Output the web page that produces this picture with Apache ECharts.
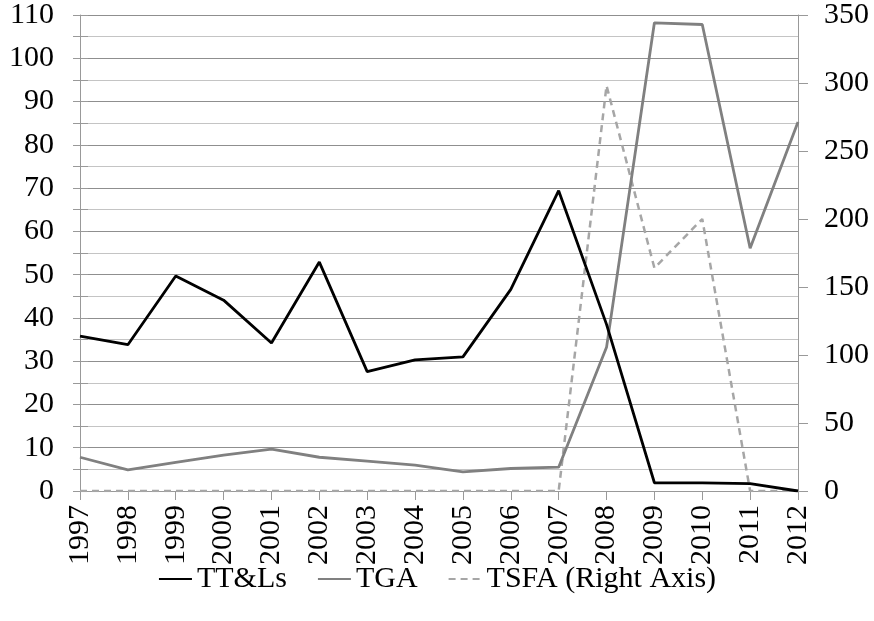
<!DOCTYPE html>
<html><head><meta charset="utf-8">
<script src="https://cdn.jsdelivr.net/npm/echarts@6/dist/echarts.min.js"></script>
<style>html,body{margin:0;padding:0;background:#fff}#c{width:874px;height:621px}</style>
</head><body><div id="c"></div>
<script>
const years = ['1997','1998','1999','2000','2001','2002','2003','2004','2005','2006','2007','2008','2009','2010','2011','2012'];
const ttls = [35.8, 33.8, 49.7, 44.1, 34.2, 52.9, 27.6, 30.3, 31.0, 46.6, 69.4, 38.5, 1.9, 1.9, 1.7, 0];
const tga = [7.8, 4.9, 6.6, 8.3, 9.7, 7.8, 6.9, 6.0, 4.4, 5.2, 5.5, 33.2, 108.2, 107.8, 56.1, 85.3];
const tsfa = [0, 0, 0, 0, 0, 0, 0, 0, 0, 0, 0, 298, 164, 200, 0, 0];
const leftTicks = {min: 0, max: 110, interval: 10};
const rightTicks = {min: 0, max: 350, interval: 50};

const font = 'Liberation Serif';
const chart = echarts.init(document.getElementById('c'));
chart.setOption({
  animation: false,
  grid: {left: 80, right: 76, top: 15, bottom: 130},
  legend: {
    bottom: 22, left: 'center', itemGap: 30, itemWidth: 33, itemHeight: 14,
    itemStyle: {opacity: 0},
    textStyle: {fontFamily: font, fontSize: 30, color: '#000'},
    data: ['TT&Ls', 'TGA', 'TSFA (Right Axis)']
  },
  xAxis: {
    type: 'category', data: years, boundaryGap: false,
    axisLine: {show: true, lineStyle: {color: '#999', width: 1}},
    axisTick: {show: true, inside: false, length: 9, lineStyle: {color: '#999'}},
    axisLabel: {rotate: 90, fontFamily: font, fontSize: 30, color: '#000', margin: 14},
    splitLine: {show: false}
  },
  yAxis: [
    {type: 'value', position: 'left', min: leftTicks.min, max: leftTicks.max, interval: leftTicks.interval,
     axisLine: {show: true, lineStyle: {color: '#999'}},
     axisTick: {show: true, length: 7, lineStyle: {color: '#999'}},
     minorTick: {show: true, splitNumber: 2, length: 7, lineStyle: {color: '#999'}},
     axisLabel: {fontFamily: font, fontSize: 30, color: '#000', margin: 26},
     splitLine: {show: true, lineStyle: {color: '#8f8f8f', width: 1}},
     minorSplitLine: {show: true, lineStyle: {color: '#c4c4c4', width: 1}}},
    {type: 'value', position: 'right', min: rightTicks.min, max: rightTicks.max, interval: rightTicks.interval,
     axisLine: {show: true, lineStyle: {color: '#999'}},
     axisTick: {show: true, length: 10, lineStyle: {color: '#999'}},
     axisLabel: {fontFamily: font, fontSize: 30, color: '#000', margin: 26},
     splitLine: {show: false}},
    {type: 'value', position: 'left', min: leftTicks.min, max: leftTicks.max, interval: leftTicks.interval,
     axisLine: {show: false},
     axisTick: {show: true, inside: true, length: 8, lineStyle: {color: '#999'}},
     minorTick: {show: true, splitNumber: 2, length: 8, lineStyle: {color: '#999'}},
     axisLabel: {show: false}, splitLine: {show: false}}
  ],
  series: [
    {name: 'TSFA (Right Axis)', type: 'line', yAxisIndex: 1, data: tsfa, symbol: 'none', z: 3,
     lineStyle: {color: '#a6a6a6', width: 2.5, type: [7, 5]}, itemStyle: {color: '#a6a6a6'}},
    {name: 'TGA', type: 'line', yAxisIndex: 0, data: tga, symbol: 'none', z: 4,
     lineStyle: {color: '#808080', width: 2.8}, itemStyle: {color: '#808080'}},
    {name: 'TT&Ls', type: 'line', yAxisIndex: 0, data: ttls, symbol: 'none', z: 5,
     lineStyle: {color: '#000', width: 2.8}, itemStyle: {color: '#000'}}
  ]
});
</script></body></html>
